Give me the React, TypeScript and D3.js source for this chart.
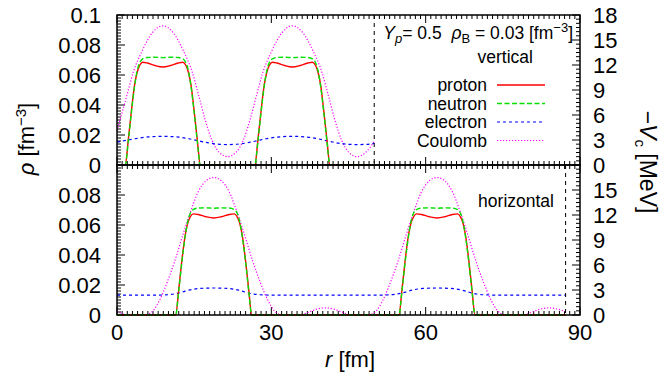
import React from 'react';
import * as d3 from 'd3';

// [r (fm), rho (fm^-3)] or [r, -Vc (MeV)]
const protonVertical = [
  [0, 0], [1.6, 0], [2.2, 0.017], [2.8, 0.036], [3.4, 0.053], [3.9, 0.0615], [4.4, 0.0663], [5.0, 0.0685],
  [5.9, 0.068], [7.4, 0.0663], [8.9, 0.0653], [10.4, 0.0663], [11.9, 0.068], [12.8, 0.0685], [13.4, 0.0663],
  [13.9, 0.0615], [14.4, 0.053], [15.0, 0.036], [15.6, 0.017], [16.2, 0],
  [26.8, 0], [27.4, 0.017], [28.0, 0.036], [28.6, 0.053], [29.1, 0.0615], [29.6, 0.0663], [30.2, 0.0685],
  [31.1, 0.068], [32.6, 0.0663], [34.1, 0.0653], [35.6, 0.0663], [37.1, 0.068], [38.0, 0.0685], [38.6, 0.0663],
  [39.1, 0.0615], [39.6, 0.053], [40.2, 0.036], [40.8, 0.017], [41.4, 0], [50, 0],
];
const neutronVertical = [
  [0, 0], [1.6, 0], [2.2, 0.016], [2.8, 0.035], [3.4, 0.052], [3.9, 0.0625], [4.4, 0.0682], [5.0, 0.0708],
  [5.9, 0.0717], [7.4, 0.0718], [8.9, 0.0716], [10.4, 0.0718], [11.9, 0.0717], [12.8, 0.0708], [13.4, 0.0682],
  [13.9, 0.0625], [14.4, 0.052], [15.0, 0.035], [15.6, 0.016], [16.2, 0],
  [26.8, 0], [27.4, 0.016], [28.0, 0.035], [28.6, 0.052], [29.1, 0.0625], [29.6, 0.0682], [30.2, 0.0708],
  [31.1, 0.0717], [32.6, 0.0718], [34.1, 0.0716], [35.6, 0.0718], [37.1, 0.0717], [38.0, 0.0708], [38.6, 0.0682],
  [39.1, 0.0625], [39.6, 0.052], [40.2, 0.035], [40.8, 0.016], [41.4, 0], [50, 0],
];
const electronVertical = [
  [0, 0.0152], [2, 0.0166], [4, 0.0178], [6, 0.0187], [8.9, 0.0191], [12, 0.0186], [14, 0.0175], [16, 0.016],
  [18, 0.0146], [20, 0.0138], [21.5, 0.0136], [23, 0.0138], [25, 0.0146], [27, 0.016], [29, 0.0175],
  [31, 0.0186], [34.1, 0.0191], [37, 0.0186], [39, 0.0175], [41, 0.016], [43, 0.0146], [45, 0.0138],
  [46.7, 0.0136], [48.5, 0.0138], [50, 0.0144],
];
const coulombVertical = [
  [0, 4.1], [1.9, 8.3], [3.2, 11.2], [4.9, 13.7], [6.9, 15.9], [8.9, 16.7], [10.9, 15.9], [12.9, 13.7],
  [14.6, 11.2], [15.9, 8.3], [17.2, 5.3], [18.5, 2.9], [19.9, 1.5], [21.5, 1.0], [23.1, 1.5], [24.5, 2.9],
  [25.8, 5.3], [27.1, 8.3], [28.4, 11.2], [30.1, 13.7], [32.1, 15.9], [34.1, 16.7], [36.1, 15.9], [38.1, 13.7],
  [39.8, 11.2], [41.1, 8.3], [42.4, 5.3], [43.7, 2.9], [45.1, 1.5], [46.7, 1.0], [48.3, 1.5], [50, 2.8],
];

const protonHorizontal = [
  [0, 0], [11.4, 0], [12.0, 0.017], [12.6, 0.036], [13.2, 0.052], [13.7, 0.0606], [14.2, 0.0652], [14.8, 0.0674],
  [15.8, 0.067], [17.3, 0.0655], [18.8, 0.0647], [20.3, 0.0655], [21.8, 0.067], [22.8, 0.0674], [23.4, 0.0652],
  [23.9, 0.0606], [24.4, 0.052], [25.0, 0.036], [25.6, 0.017], [26.2, 0],
  [54.8, 0], [55.4, 0.017], [56.0, 0.036], [56.6, 0.052], [57.1, 0.0606], [57.6, 0.0652], [58.2, 0.0674],
  [59.2, 0.067], [60.7, 0.0655], [62.2, 0.0647], [63.7, 0.0655], [65.2, 0.067], [66.2, 0.0674], [66.8, 0.0652],
  [67.3, 0.0606], [67.8, 0.052], [68.4, 0.036], [69.0, 0.017], [69.6, 0], [87.2, 0],
];
const neutronHorizontal = [
  [0, 0], [11.4, 0], [12.0, 0.016], [12.6, 0.035], [13.2, 0.051], [13.7, 0.0615], [14.2, 0.0675], [14.8, 0.0703],
  [15.8, 0.0713], [17.3, 0.0714], [18.8, 0.0712], [20.3, 0.0714], [21.8, 0.0713], [22.8, 0.0703], [23.4, 0.0675],
  [23.9, 0.0615], [24.4, 0.051], [25.0, 0.035], [25.6, 0.016], [26.2, 0],
  [54.8, 0], [55.4, 0.016], [56.0, 0.035], [56.6, 0.051], [57.1, 0.0615], [57.6, 0.0675], [58.2, 0.0703],
  [59.2, 0.0713], [60.7, 0.0714], [62.2, 0.0712], [63.7, 0.0714], [65.2, 0.0713], [66.2, 0.0703], [66.8, 0.0675],
  [67.3, 0.0615], [67.8, 0.051], [68.4, 0.035], [69.0, 0.016], [69.6, 0], [87.2, 0],
];
const electronHorizontal = [
  [0, 0.0133], [7.8, 0.0133], [9.3, 0.0134], [11.1, 0.014], [12.6, 0.0152], [14.1, 0.0167], [16.1, 0.0177],
  [18.8, 0.018], [21.5, 0.0177], [23.5, 0.0167], [25.0, 0.0152], [26.5, 0.014], [28.3, 0.0134], [29.8, 0.0133],
  [51.2, 0.0133], [52.7, 0.0134], [54.5, 0.014], [56.0, 0.0152], [57.5, 0.0167], [59.5, 0.0177], [62.2, 0.018],
  [64.9, 0.0177], [66.9, 0.0167], [68.4, 0.0152], [69.9, 0.014], [71.7, 0.0134], [73.2, 0.0133], [87.2, 0.0133],
];
const coulombHorizontal = [
  [0, 0.45], [2.0, 0], [4.6, 0], [5.8, 0.05], [7.0, 0.5], [8.3, 1.8], [9.8, 4.0], [11.3, 6.6], [12.8, 9.6],
  [14.3, 12.4], [15.8, 14.8], [17.3, 16.1], [18.8, 16.5], [20.3, 16.1], [21.8, 14.8], [23.3, 12.4], [24.8, 9.6],
  [26.3, 6.6], [27.8, 4.0], [29.3, 1.8], [30.6, 0.5], [31.8, 0.05], [33.0, 0], [35.6, 0], [37.3, 0.35],
  [38.8, 0.7], [40.5, 0.85], [42.2, 0.7], [43.7, 0.35], [45.4, 0], [48.0, 0], [49.2, 0.05], [50.4, 0.5],
  [51.7, 1.8], [53.2, 4.0], [54.7, 6.6], [56.2, 9.6], [57.7, 12.4], [59.2, 14.8], [60.7, 16.1], [62.2, 16.5],
  [63.7, 16.1], [65.2, 14.8], [66.7, 12.4], [68.2, 9.6], [69.7, 6.6], [71.2, 4.0], [72.7, 1.8], [74.0, 0.5],
  [75.2, 0.05], [76.4, 0], [79.0, 0], [80.7, 0.35], [82.2, 0.7], [84.0, 0.85], [85.7, 0.7], [87.2, 0.4],
];

const rTicks = [0, 30, 60, 90];
const rhoTicksTop = [0, 0.02, 0.04, 0.06, 0.08, 0.1];
const rhoTicksBottom = [0, 0.02, 0.04, 0.06, 0.08];
const vTicksTop = [0, 3, 6, 9, 12, 15, 18];
const vTicksBottom = [0, 3, 6, 9, 12, 15];
const cellEdges = { vertical: 50, horizontal: 87.2 };
const legendLabels = ['proton', 'neutron', 'electron', 'Coulomb'];

const FONT = 'Liberation Sans, Arial, Helvetica, sans-serif';
const styles = {
  proton: { stroke: '#ff0000', dash: undefined, width: 1.4 },
  neutron: { stroke: '#00e000', dash: '5,2.5', width: 1.4 },
  electron: { stroke: '#0000ff', dash: '3,3', width: 1.2 },
  Coulomb: { stroke: '#ff00ff', dash: '1.2,1.8', width: 1.2 },
};

const L = 117, R = 580;
const x = d3.scaleLinear().domain([0, 90]).range([L, R]);
const fmt = d3.format('~g');

function Panel({ top, bottom, series, rhoTicks, vTicks, edge, label }) {
  const y = d3.scaleLinear().domain([0, 0.1]).range([bottom, top]);
  const v = d3.scaleLinear().domain([0, 18]).range([bottom, top]);
  const lineRho = d3.line().x((d) => x(d[0])).y((d) => y(d[1])).curve(d3.curveMonotoneX);
  const lineV = d3.line().x((d) => x(d[0])).y((d) => v(d[1])).curve(d3.curveMonotoneX);

  const xMinor = d3.range(0, 91, 1);
  const yMinor = d3.range(0, 0.1001, 0.002);
  const vMinor = d3.range(0, 18.01, 0.5);

  return (
    <g>
      {/* x ticks on both edges, pointing inward */}
      {xMinor.map((r) => {
        const len = r % 30 === 0 ? 8 : 4;
        return (
          <g key={'x' + r}>
            <line x1={x(r)} x2={x(r)} y1={bottom} y2={bottom - len} stroke="black" strokeWidth={1} />
            <line x1={x(r)} x2={x(r)} y1={top} y2={top + len} stroke="black" strokeWidth={1} />
          </g>
        );
      })}
      {yMinor.map((t, i) => (
        <line key={'y' + i} x1={L} x2={L + (i % 10 === 0 ? 8 : 4)} y1={y(t)} y2={y(t)} stroke="black" strokeWidth={1} />
      ))}
      {vMinor.map((t, i) => (
        <line key={'v' + i} x1={R} x2={R - (i % 6 === 0 ? 8 : 4)} y1={v(t)} y2={v(t)} stroke="black" strokeWidth={1} />
      ))}

      <path d={lineV(series.Coulomb)} fill="none" stroke={styles.Coulomb.stroke} strokeWidth={styles.Coulomb.width} strokeDasharray={styles.Coulomb.dash} />
      <path d={lineRho(series.electron)} fill="none" stroke={styles.electron.stroke} strokeWidth={styles.electron.width} strokeDasharray={styles.electron.dash} />
      <path d={lineRho(series.proton)} fill="none" stroke={styles.proton.stroke} strokeWidth={styles.proton.width} />
      <path d={lineRho(series.neutron)} fill="none" stroke={styles.neutron.stroke} strokeWidth={styles.neutron.width} strokeDasharray={styles.neutron.dash} />

      {/* cell boundary */}
      <line x1={x(edge)} x2={x(edge)} y1={top} y2={bottom} stroke="black" strokeWidth={1} strokeDasharray="4,4" />

      <rect x={L} y={top} width={R - L} height={bottom - top} fill="none" stroke="black" strokeWidth={1.5} />

      {rhoTicks.map((t) => (
        <text key={'yl' + t} x={101} y={y(t)} dy="0.36em" textAnchor="end" fontSize={22} fontFamily={FONT}>{fmt(t)}</text>
      ))}
      {vTicks.map((t) => (
        <text key={'vl' + t} x={593} y={v(t)} dy="0.36em" textAnchor="start" fontSize={22} fontFamily={FONT}>{t}</text>
      ))}
      {label}
    </g>
  );
}

export default function App() {
  const legendY = [85, 103.5, 122, 140.5];
  const topLabel = (
    <g fontFamily={FONT} fontSize={17.5}>
      <text x={573} y={39} textAnchor="end">
        <tspan fontStyle="italic">Y</tspan><tspan fontSize={13} dy={4} fontStyle="italic">p</tspan>
        <tspan dy={-4}>{'= 0.5\u00A0\u00A0'}</tspan><tspan fontStyle="italic">ρ</tspan><tspan fontSize={13} dy={4}>B</tspan>
        <tspan dy={-4}>{' = 0.03 [fm'}</tspan><tspan fontSize={13} dy={-7}>−3</tspan><tspan dy={7}>]</tspan>
      </text>
      <text x={533} y={63} textAnchor="end">vertical</text>
      {legendLabels.map((name, i) => (
        <g key={name}>
          <text x={487} y={legendY[i] + 6} textAnchor="end">{name}</text>
          <line x1={497} x2={545} y1={legendY[i]} y2={legendY[i]} stroke={styles[name].stroke} strokeWidth={styles[name].width} strokeDasharray={styles[name].dash} />
        </g>
      ))}
    </g>
  );
  const bottomLabel = (
    <text x={554} y={207} textAnchor="end" fontFamily={FONT} fontSize={17.5}>horizontal</text>
  );

  return (
    <svg width={664} height={377} style={{ position: 'absolute', left: 0, top: 0, background: 'white' }}>
      <Panel
        top={15}
        bottom={165}
        series={{ proton: protonVertical, neutron: neutronVertical, electron: electronVertical, Coulomb: coulombVertical }}
        rhoTicks={rhoTicksTop}
        vTicks={vTicksTop}
        edge={cellEdges.vertical}
        label={topLabel}
      />
      <Panel
        top={165}
        bottom={315}
        series={{ proton: protonHorizontal, neutron: neutronHorizontal, electron: electronHorizontal, Coulomb: coulombHorizontal }}
        rhoTicks={rhoTicksBottom}
        vTicks={vTicksBottom}
        edge={cellEdges.horizontal}
        label={bottomLabel}
      />
      {rTicks.map((t) => (
        <text key={'xl' + t} x={x(t)} y={340} textAnchor="middle" fontSize={22} fontFamily={FONT}>{t}</text>
      ))}
      <text x={350} y={367} textAnchor="middle" fontSize={22} fontFamily={FONT}>
        <tspan fontStyle="italic">r</tspan> [fm]
      </text>
      <text transform="translate(34,139) rotate(-90)" textAnchor="middle" fontSize={22} fontFamily={FONT}>
        <tspan fontStyle="italic">ρ</tspan> [fm<tspan fontSize={15} dy={-8}>−3</tspan><tspan dy={8}>]</tspan>
      </text>
      <text transform="translate(640,162) rotate(90)" textAnchor="middle" fontSize={23} fontFamily={FONT}>
        {'−'}<tspan fontStyle="italic">V</tspan><tspan fontSize={15} dy={5}>c</tspan><tspan dy={-5}>{' [MeV]'}</tspan>
      </text>
    </svg>
  );
}
